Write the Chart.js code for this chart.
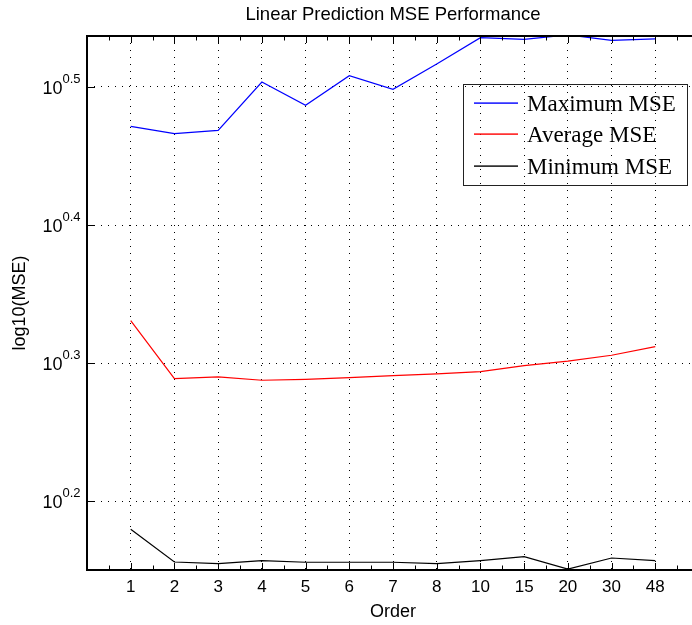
<!DOCTYPE html>
<html>
<head>
<meta charset="utf-8">
<script src="https://cdn.jsdelivr.net/npm/chart.js@4.4.0/dist/chart.umd.min.js"></script>
<style>
  html, body { margin:0; padding:0; background:#fff; overflow:hidden; }
  #wrap { width:692px; height:625px; overflow:hidden; }
  canvas { display:block; }
</style>
</head>
<body>
<div id="wrap"><canvas id="c" width="786" height="625" style="width:786px;height:625px"></canvas></div>
<script>
const ORDERS = ['1','2','3','4','5','6','7','8','10','15','20','30','48'];
const Y_TICKS = [0.2, 0.3, 0.4, 0.5];
const SERIES = ['Maximum MSE', 'Average MSE', 'Minimum MSE'];
const COLORS = ['rgb(0,0,255)', 'rgb(255,0,0)', 'rgb(0,0,0)'];
// exponents (log10 of MSE)
const MAX_MSE = [0.4715, 0.4662, 0.4686, 0.5036, 0.4867, 0.5082, 0.4983, 0.5167, 0.5357, 0.5345, 0.5377, 0.5338, 0.5348];
const AVG_MSE = [0.3308, 0.2888, 0.2900, 0.2876, 0.2883, 0.2895, 0.2909, 0.2922, 0.2938, 0.2982, 0.3014, 0.3057, 0.3120];
const MIN_MSE = [0.1797, 0.1560, 0.1548, 0.1570, 0.1558, 0.1558, 0.1558, 0.1548, 0.1570, 0.1599, 0.1508, 0.1589, 0.1570];

const SANS = '"Liberation Sans", Arial, sans-serif';
const pts = (arr) => arr.map((v, i) => ({x: i + 1, y: v}));

// matlab-ish axes: inward ticks, box, 10^x labels, legend
const matlabAxes = {
    id: 'matlabAxes',
    afterDatasetsDraw(chart) {
        const {ctx, chartArea: a, scales: {x, y}} = chart;
        ctx.save();
        ctx.strokeStyle = '#000';
        ctx.lineWidth = 1;
        ctx.beginPath();
        for (let p = 0.5; p < 14; p += 0.5) {
            const px = Math.round(x.getPixelForValue(p)) + 0.5;
            const len = Number.isInteger(p) ? 7 : 4.5;
            ctx.moveTo(px, a.bottom); ctx.lineTo(px, a.bottom - len);
            ctx.moveTo(px, a.top); ctx.lineTo(px, a.top + len);
        }
        Y_TICKS.forEach(v => {
            const py = Math.round(y.getPixelForValue(v)) + 0.5;
            ctx.moveTo(a.left, py); ctx.lineTo(a.left + 8, py);
        });
        ctx.stroke();

        ctx.lineWidth = 2;
        ctx.strokeRect(a.left, a.top, a.right - a.left, a.bottom - a.top);

        // y tick labels as 10 with superscript
        ctx.fillStyle = '#000';
        ctx.textAlign = 'right';
        ctx.textBaseline = 'alphabetic';
        Y_TICKS.forEach(v => {
            const py = y.getPixelForValue(v);
            const ex = v.toFixed(1);
            ctx.font = '13px ' + SANS;
            const w = ctx.measureText(ex).width;
            ctx.fillText(ex, a.left - 6.5, py - 4.3);
            ctx.font = '18px ' + SANS;
            ctx.fillText('10', a.left - 6.5 - w, py + 6.7);
        });

        // legend box
        const L = {left: 463.5, top: 84.5, right: 687.5, bottom: 185.5};
        ctx.lineWidth = 1;
        ctx.strokeStyle = '#222';
        ctx.strokeRect(L.left, L.top, L.right - L.left, L.bottom - L.top);
        ctx.textAlign = 'left';
        ctx.font = '23px "Liberation Serif", "Times New Roman", serif';
        SERIES.forEach((name, i) => {
            const ry = Math.round(L.top + 18 + i * 31.8);
            ctx.fillStyle = COLORS[i];
            ctx.fillRect(474, ry - 0.6, 44, 1.4);
            ctx.fillStyle = '#000';
            ctx.fillText(name, 527, ry + 8);
        });
        ctx.restore();
    }
};

const mk = (i, arr) => ({
    label: SERIES[i], data: pts(arr), borderColor: COLORS[i], backgroundColor: COLORS[i],
    borderWidth: 1.2, pointRadius: 0, tension: 0, clip: 0
});

new Chart(document.getElementById('c').getContext('2d'), {
    type: 'line',
    data: { datasets: [ mk(0, MAX_MSE), mk(1, AVG_MSE), mk(2, MIN_MSE) ] },
    options: {
        responsive: false, animation: false, devicePixelRatio: 1,
        layout: { padding: { left: 0, right: 87, top: 0, bottom: 0 } },
        plugins: {
            legend: { display: false },
            tooltip: { enabled: false },
            title: { display: true, text: 'Linear Prediction MSE Performance', color: '#000', fullSize: false,
                     font: { family: SANS, size: 18.5, weight: 'normal', lineHeight: 1.2 }, padding: { top: 4, bottom: 9.8 } }
        },
        scales: {
            x: {
                type: 'linear', min: 0, max: 14,
                afterBuildTicks: s => { s.ticks = ORDERS.map((_, i) => ({value: i + 1})); },
                afterFit: s => { s.height = 55; },
                ticks: { callback: v => ORDERS[v - 1], color: '#000', font: { family: SANS, size: 17 }, padding: 7, maxRotation: 0, autoSkip: false },
                grid: { color: '#000', lineWidth: 1, drawTicks: false },
                border: { display: false, dash: [1, 6] },
                title: { display: true, text: 'Order', color: '#000', font: { family: SANS, size: 18 }, padding: { top: 0, bottom: 2 } }
            },
            y: {
                type: 'linear', min: 0.1502, max: 0.5369,
                afterBuildTicks: s => { s.ticks = Y_TICKS.map(v => ({value: v})); },
                afterFit: s => { s.width = 87; },
                ticks: { display: false },
                grid: { color: '#000', lineWidth: 1, drawTicks: false },
                border: { display: false, dash: [1, 6] },
                title: { display: true, text: 'log10(MSE)', color: '#000', font: { family: SANS, size: 18 }, padding: { top: 9, bottom: 0 } }
            }
        }
    },
    plugins: [matlabAxes]
});
</script>
</body>
</html>
